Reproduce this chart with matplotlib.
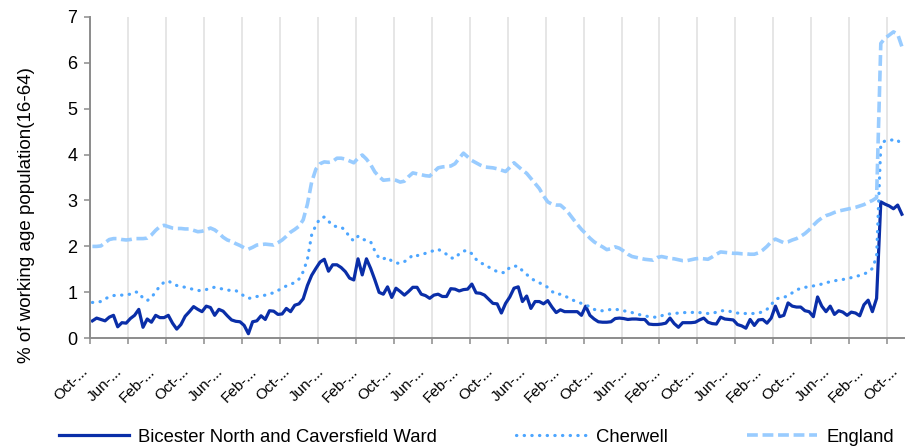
import matplotlib
matplotlib.use("Agg")
import matplotlib.pyplot as plt
import matplotlib.transforms as mtransforms
import numpy as np

plt.rcParams["font.family"] = ["Liberation Sans", "DejaVu Sans"]

# monthly claimant rate, % of working age population (16-64)
bicester = [
    0.38, 0.44, 0.41, 0.38, 0.46, 0.50, 0.25, 0.34, 0.33, 0.43,
    0.50, 0.63, 0.24, 0.42, 0.35, 0.50, 0.45, 0.45, 0.50, 0.33,
    0.20, 0.30, 0.48, 0.58, 0.69, 0.63, 0.58, 0.70, 0.67, 0.50,
    0.63, 0.59, 0.49, 0.40, 0.37, 0.36, 0.28, 0.10, 0.36, 0.38,
    0.49, 0.41, 0.60, 0.59, 0.52, 0.53, 0.65, 0.58, 0.72, 0.75,
    0.86, 1.15, 1.37, 1.52, 1.66, 1.72, 1.46, 1.60, 1.60, 1.54,
    1.45, 1.31, 1.27, 1.73, 1.38, 1.73, 1.52, 1.27, 1.00, 0.96,
    1.12, 0.89, 1.09, 1.02, 0.94, 1.02, 1.11, 1.11, 0.96, 0.93,
    0.87, 0.94, 0.96, 0.91, 0.91, 1.08, 1.07, 1.03, 1.06, 1.07,
    1.18, 0.99, 0.98, 0.94, 0.85, 0.76, 0.75, 0.55, 0.76, 0.90,
    1.09, 1.12, 0.80, 0.92, 0.65, 0.80, 0.80, 0.75, 0.82, 0.68,
    0.56, 0.62, 0.58, 0.58, 0.58, 0.58, 0.50, 0.70, 0.50, 0.42,
    0.36, 0.35, 0.35, 0.36, 0.43, 0.44, 0.43, 0.41, 0.42, 0.42,
    0.41, 0.41, 0.31, 0.30, 0.30, 0.31, 0.33, 0.44, 0.32, 0.24,
    0.34, 0.34, 0.34, 0.35, 0.40, 0.44, 0.35, 0.32, 0.31, 0.46,
    0.42, 0.41, 0.40, 0.30, 0.27, 0.22, 0.41, 0.28, 0.40, 0.41,
    0.33, 0.44, 0.70, 0.47, 0.50, 0.77, 0.70, 0.68, 0.68, 0.60,
    0.58, 0.47, 0.90, 0.70, 0.58, 0.70, 0.52, 0.60, 0.57, 0.50,
    0.57, 0.55, 0.49, 0.73, 0.83, 0.58, 0.87, 2.97, 2.92, 2.88,
    2.82, 2.90, 2.70,
]

cherwell = [
    0.78, 0.79, 0.80, 0.86, 0.90, 0.93, 0.94, 0.94, 0.95, 0.96,
    1.01, 1.00, 0.87, 0.82, 0.89, 1.01, 1.14, 1.22, 1.25, 1.19,
    1.15, 1.13, 1.11, 1.09, 1.06, 1.04, 1.04, 1.06, 1.10, 1.11,
    1.09, 1.07, 1.05, 1.04, 1.04, 0.98, 0.92, 0.87, 0.88, 0.91,
    0.92, 0.94, 0.97, 0.99, 1.04, 1.09, 1.14, 1.18, 1.21, 1.29,
    1.45, 1.72, 2.25, 2.46, 2.61, 2.64, 2.55, 2.45, 2.43, 2.42,
    2.35, 2.20, 2.12, 2.22, 2.15, 2.14, 2.10, 1.90, 1.74, 1.73,
    1.76, 1.68, 1.64, 1.63, 1.67, 1.72, 1.82, 1.80, 1.82, 1.85,
    1.88, 1.91, 1.94, 1.88, 1.83, 1.75, 1.74, 1.84, 1.90, 1.91,
    1.84, 1.72, 1.64, 1.61, 1.55, 1.50, 1.45, 1.43, 1.43, 1.55,
    1.57, 1.57, 1.47, 1.39, 1.31, 1.25, 1.21, 1.16, 1.11, 1.02,
    0.96, 0.96, 0.92, 0.88, 0.83, 0.79, 0.76, 0.72, 0.69, 0.63,
    0.60, 0.60, 0.61, 0.63, 0.63, 0.62, 0.60, 0.58, 0.56, 0.53,
    0.51, 0.49, 0.47, 0.46, 0.46, 0.49, 0.53, 0.53, 0.54, 0.55,
    0.56, 0.56, 0.56, 0.57, 0.56, 0.55, 0.54, 0.54, 0.57, 0.60,
    0.60, 0.59, 0.57, 0.55, 0.54, 0.54, 0.54, 0.54, 0.55, 0.58,
    0.63, 0.73, 0.85, 0.88, 0.89, 0.93, 0.99, 1.05, 1.09, 1.11,
    1.12, 1.14, 1.16, 1.18, 1.21, 1.23, 1.25, 1.27, 1.28, 1.30,
    1.32, 1.34, 1.37, 1.40, 1.44, 1.52, 1.78, 4.22, 4.30, 4.31,
    4.32, 4.32, 4.17,
]

england = [
    2.00, 2.00, 2.01, 2.08, 2.15, 2.17, 2.17, 2.15, 2.14, 2.15,
    2.17, 2.17, 2.17, 2.18, 2.25, 2.35, 2.43, 2.46, 2.43, 2.40,
    2.39, 2.39, 2.38, 2.38, 2.35, 2.32, 2.33, 2.36, 2.40, 2.36,
    2.29, 2.20, 2.14, 2.11, 2.06, 2.02, 1.97, 1.94, 1.98, 2.03,
    2.04, 2.05, 2.04, 2.03, 2.08, 2.14, 2.22, 2.31, 2.37, 2.44,
    2.58, 2.92, 3.40, 3.68, 3.80, 3.84, 3.83, 3.85, 3.92, 3.92,
    3.90, 3.86, 3.82, 3.92, 3.99, 3.90, 3.78, 3.62, 3.52, 3.44,
    3.45, 3.46, 3.44, 3.40, 3.42, 3.52, 3.60, 3.58, 3.56, 3.54,
    3.53, 3.62, 3.71, 3.73, 3.74, 3.75, 3.80, 3.92, 4.03, 3.95,
    3.87, 3.82, 3.77, 3.73, 3.72, 3.71, 3.69, 3.66, 3.63, 3.72,
    3.82, 3.74, 3.66, 3.59, 3.48, 3.37, 3.26, 3.10, 2.97, 2.92,
    2.90, 2.90, 2.82, 2.72, 2.60, 2.48, 2.37, 2.28, 2.18, 2.10,
    2.04, 1.99, 1.93, 1.95, 1.99, 1.96, 1.90, 1.83, 1.78, 1.76,
    1.74, 1.72, 1.71, 1.70, 1.76, 1.78, 1.76, 1.74, 1.73, 1.71,
    1.69, 1.69, 1.71, 1.73, 1.74, 1.73, 1.72, 1.77, 1.83, 1.88,
    1.87, 1.86, 1.85, 1.85, 1.84, 1.84, 1.83, 1.83, 1.86, 1.92,
    2.00, 2.10, 2.16, 2.12, 2.08, 2.10, 2.14, 2.17, 2.22, 2.28,
    2.36, 2.46, 2.55, 2.62, 2.67, 2.70, 2.74, 2.77, 2.79, 2.81,
    2.83, 2.85, 2.88, 2.91, 2.96, 3.00, 3.06, 6.42, 6.53, 6.60,
    6.67, 6.62, 6.35,
]

# one label every 8 months, shown truncated as in the source chart
x_labels = [
    "Oct-...", "Jun-...", "Feb-...", "Oct-...", "Jun-...", "Feb-...",
    "Oct-...", "Jun-...", "Feb-...", "Oct-...", "Jun-...", "Feb-...",
    "Oct-...", "Jun-...", "Feb-...", "Oct-...", "Jun-...", "Feb-...",
    "Oct-...", "Jun-...", "Feb-...", "Oct-...", "Jun-...", "Feb-...",
    "Oct-...",
]
series_names = ["Bicester North and Caversfield Ward", "Cherwell", "England"]
y_label = "% of working age population(16-64)"

label_step = 8
tick_step = 9
axis_grey = "#8c8c8c"

n = len(bicester)
months = np.arange(n)

fig = plt.figure(figsize=(9.05, 4.48), dpi=100)
ax = fig.add_axes([90.3 / 905, 109.7 / 448, 813.7 / 905, 321.6 / 448])

ax.plot(months, bicester, color="#0a2ea8", lw=2.3, label=series_names[0])
ax.plot(months, cherwell, color="#4da6ff", lw=2.3,
        linestyle=(0, (0.1, 2.3)), dash_capstyle="round", label=series_names[1])
ax.plot(months, england, color="#99ccff", lw=2.6,
        linestyle=(0, (3.0, 1.3)), dash_capstyle="butt", label=series_names[2])

ax.set_xlim(-0.5, n - 0.5)
ax.set_ylim(0, 7)
ax.set_yticks(range(8))

# tick marks + vertical grid every 9 categories (between tick marks)
ax.set_xticks(np.arange(-0.5, n, tick_step))
ax.set_xticklabels([])
ax.grid(axis="x", color="#e6e6e6", lw=1.4)
ax.set_axisbelow(True)

ax.tick_params(axis="x", length=4, width=1.1, color=axis_grey, direction="out")
ax.tick_params(axis="y", length=4.3, width=1.1, color=axis_grey, pad=5,
               labelsize=13)

for side in ("top", "right"):
    ax.spines[side].set_visible(False)
for side in ("left", "bottom"):
    ax.spines[side].set_color(axis_grey)
    ax.spines[side].set_linewidth(1.4)

# rotated category labels, anchored at the baseline end
base = mtransforms.blended_transform_factory(ax.transData, ax.transAxes)
shift = mtransforms.ScaledTranslation(-0.04, -0.34, fig.dpi_scale_trans)
for k, lab in enumerate(x_labels):
    ax.text(k * label_step, 0, lab, transform=base + shift, rotation=45,
            ha="right", va="baseline", rotation_mode="anchor", fontsize=11,
            clip_on=False)

fig.text(27 / 905, 1 - 215 / 448, y_label, rotation=90, ha="center",
         va="center", fontsize=13.5)

fig.legend(loc="center", bbox_to_anchor=(476.5 / 905, 1 - 437 / 448), ncol=3,
           frameon=False, fontsize=13.3, handlelength=3.8, handletextpad=0.5,
           columnspacing=4.3, borderaxespad=0, borderpad=0)

fig.savefig("out.png", dpi=100)
